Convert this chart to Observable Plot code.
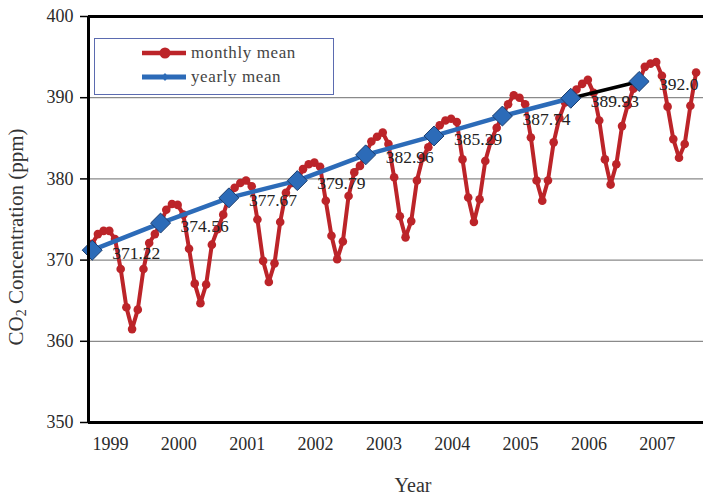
<!DOCTYPE html>
<html><head><meta charset="utf-8">
<script src="https://cdn.jsdelivr.net/npm/d3@7"></script>
<script src="https://cdn.jsdelivr.net/npm/@observablehq/plot@0.6"></script>
<style>
body{margin:0;background:#fff;}
#wrap{position:relative;width:703px;height:495px;overflow:hidden;font-family:"Liberation Serif","Times New Roman",serif;color:#333;}
.ttl{position:absolute;white-space:nowrap;font-size:20px;color:#333;transform:translate(-50%,-50%);}
#ytitle{left:17px;top:237px;font-size:21px;transform:translate(-50%,-50%) rotate(-90deg);}
#xtitle{left:413px;top:485px;}
#legend{position:absolute;left:94px;top:38px;width:240px;height:57px;border:1px solid #5B6BB0;box-sizing:border-box;background:#fff;}
#legend .lab{position:absolute;left:96px;font-size:17px;letter-spacing:0.6px;color:#444;transform:translateY(-50%);white-space:nowrap;}
#legend svg{position:absolute;left:46px;}
</style></head><body><div id="wrap"></div>
<script>
const years = [1999, 2000, 2001, 2002, 2003, 2004, 2005, 2006, 2007];
const m1999 = [372.0, 373.2, 373.6, 373.6, 372.6, 368.9, 364.2, 361.5, 363.9, 368.9, 372.1, 373.2];
const m2000 = [374.5, 376.2, 376.9, 376.8, 375.6, 371.4, 367.1, 364.7, 367.0, 371.9, 373.8, 375.6];
const m2001 = [377.7, 378.9, 379.5, 379.8, 379.1, 375.0, 369.9, 367.3, 369.6, 374.7, 378.3, 379.5];
const m2002 = [379.8, 381.2, 381.8, 382.0, 381.5, 377.3, 373.0, 370.1, 372.3, 377.9, 380.8, 381.6];
const m2003 = [383.0, 384.6, 385.2, 385.7, 384.3, 380.2, 375.4, 372.8, 374.8, 379.8, 382.6, 383.9];
const m2004 = [385.4, 386.6, 387.2, 387.4, 387.0, 382.4, 377.7, 374.7, 377.5, 382.2, 384.7, 386.3];
const m2005 = [387.8, 389.2, 390.3, 390.0, 389.2, 385.1, 379.8, 377.3, 379.8, 384.5, 387.5, 389.4];
const m2006 = [390.0, 391.0, 391.7, 392.2, 390.6, 387.2, 382.4, 379.3, 381.8, 386.5, 389.1, 391.1];
const m2007 = [392.0, 393.8, 394.2, 394.4, 392.7, 388.9, 384.9, 382.6, 384.3, 389.0, 393.1];
const yearlyMean = [371.22, 374.56, 377.67, 379.79, 382.96, 385.29, 387.74, 389.93, 392.0];
const yearlyLabels = ["371.22", "374.56", "377.67", "379.79", "382.96", "385.29", "387.74", "389.93", "392.0"];
const yTicks = [350, 360, 370, 380, 390, 400];
const gridValues = [360, 370, 380, 390];

const RED = "#BC2429", BLUE = "#2C6BB8";
const labelOffset = 3.2;
const xDomain = [-0.65, 107.3];

const monthly = [m1999, m2000, m2001, m2002, m2003, m2004, m2005, m2006, m2007]
  .flatMap((arr, i) => arr.map((v, j) => ({t: i * 12 + j, v})));
const yearly = years.map((y, i) => ({t: i * 12, v: yearlyMean[i], label: yearlyLabels[i]}));

const chart = Plot.plot({
  width: 703, height: 495,
  marginLeft: 88, marginRight: 0, marginTop: 16, marginBottom: 73,
  x: {domain: xDomain},
  y: {domain: [350, 400]},
  style: {fontFamily: '"Liberation Serif","Times New Roman",serif', fontSize: "18px", color: "#2a2a2a", background: "white"},
  marks: [
    Plot.ruleY(gridValues, {stroke: "#8a8a8a", strokeWidth: 1.3}),
    Plot.line(monthly, {x: "t", y: "v", stroke: RED, strokeWidth: 4}),
    Plot.dot(monthly, {x: "t", y: "v", r: 4.3, fill: RED}),
    Plot.line(yearly.slice(0, 8), {x: "t", y: "v", stroke: BLUE, strokeWidth: 4.5}),
    Plot.line(yearly.slice(7), {x: "t", y: "v", stroke: "#000", strokeWidth: 3.5}),
    Plot.dot(yearly, {x: "t", y: "v", symbol: "diamond2", r: 9, fill: BLUE, stroke: "#1c3d6e", strokeWidth: 1}),
    Plot.text(yearly, {x: "t", y: "v", text: "label", textAnchor: "start", dx: 20, dy: 3, fontSize: 17.5, fill: "#222"}),
    Plot.ruleY([350], {stroke: "#000", strokeWidth: 3}),
    Plot.ruleY([400], {stroke: "#000", strokeWidth: 3}),
    Plot.ruleX([xDomain[0]], {stroke: "#000", strokeWidth: 3}),
    Plot.axisY({ticks: yTicks, tickSize: 8, tickPadding: 7, label: null, stroke: "#000", strokeWidth: 1.5}),
    Plot.axisX({ticks: years.map((y, i) => i * 12 + labelOffset), tickFormat: (d) => String(years[Math.round((d - labelOffset) / 12)]), tickSize: 0, tickPadding: 15, label: null})
  ]
});
const wrap = document.getElementById("wrap");
wrap.appendChild(chart);

const yt = document.createElement("div");
yt.className = "ttl"; yt.id = "ytitle";
yt.innerHTML = "CO<sub style='font-size:14px;vertical-align:-3px'>2</sub> Concentration (ppm)";
wrap.appendChild(yt);
const xt = document.createElement("div");
xt.className = "ttl"; xt.id = "xtitle"; xt.textContent = "Year";
wrap.appendChild(xt);

const lg = document.createElement("div");
lg.id = "legend";
lg.innerHTML = `
<svg width="46" height="14" style="top:7px"><line x1="1" x2="45" y1="7" y2="7" stroke="${RED}" stroke-width="4.5"/><circle cx="24" cy="7" r="5.5" fill="${RED}"/></svg>
<div class="lab" style="top:14px">monthly mean</div>
<svg width="46" height="14" style="top:31px"><line x1="1" x2="45" y1="7" y2="7" stroke="${BLUE}" stroke-width="5"/><path d="M24,3 L27.5,7 L24,11 L20.5,7Z" fill="${BLUE}"/></svg>
<div class="lab" style="top:38px">yearly mean</div>`;
wrap.appendChild(lg);
</script>
</body></html>
